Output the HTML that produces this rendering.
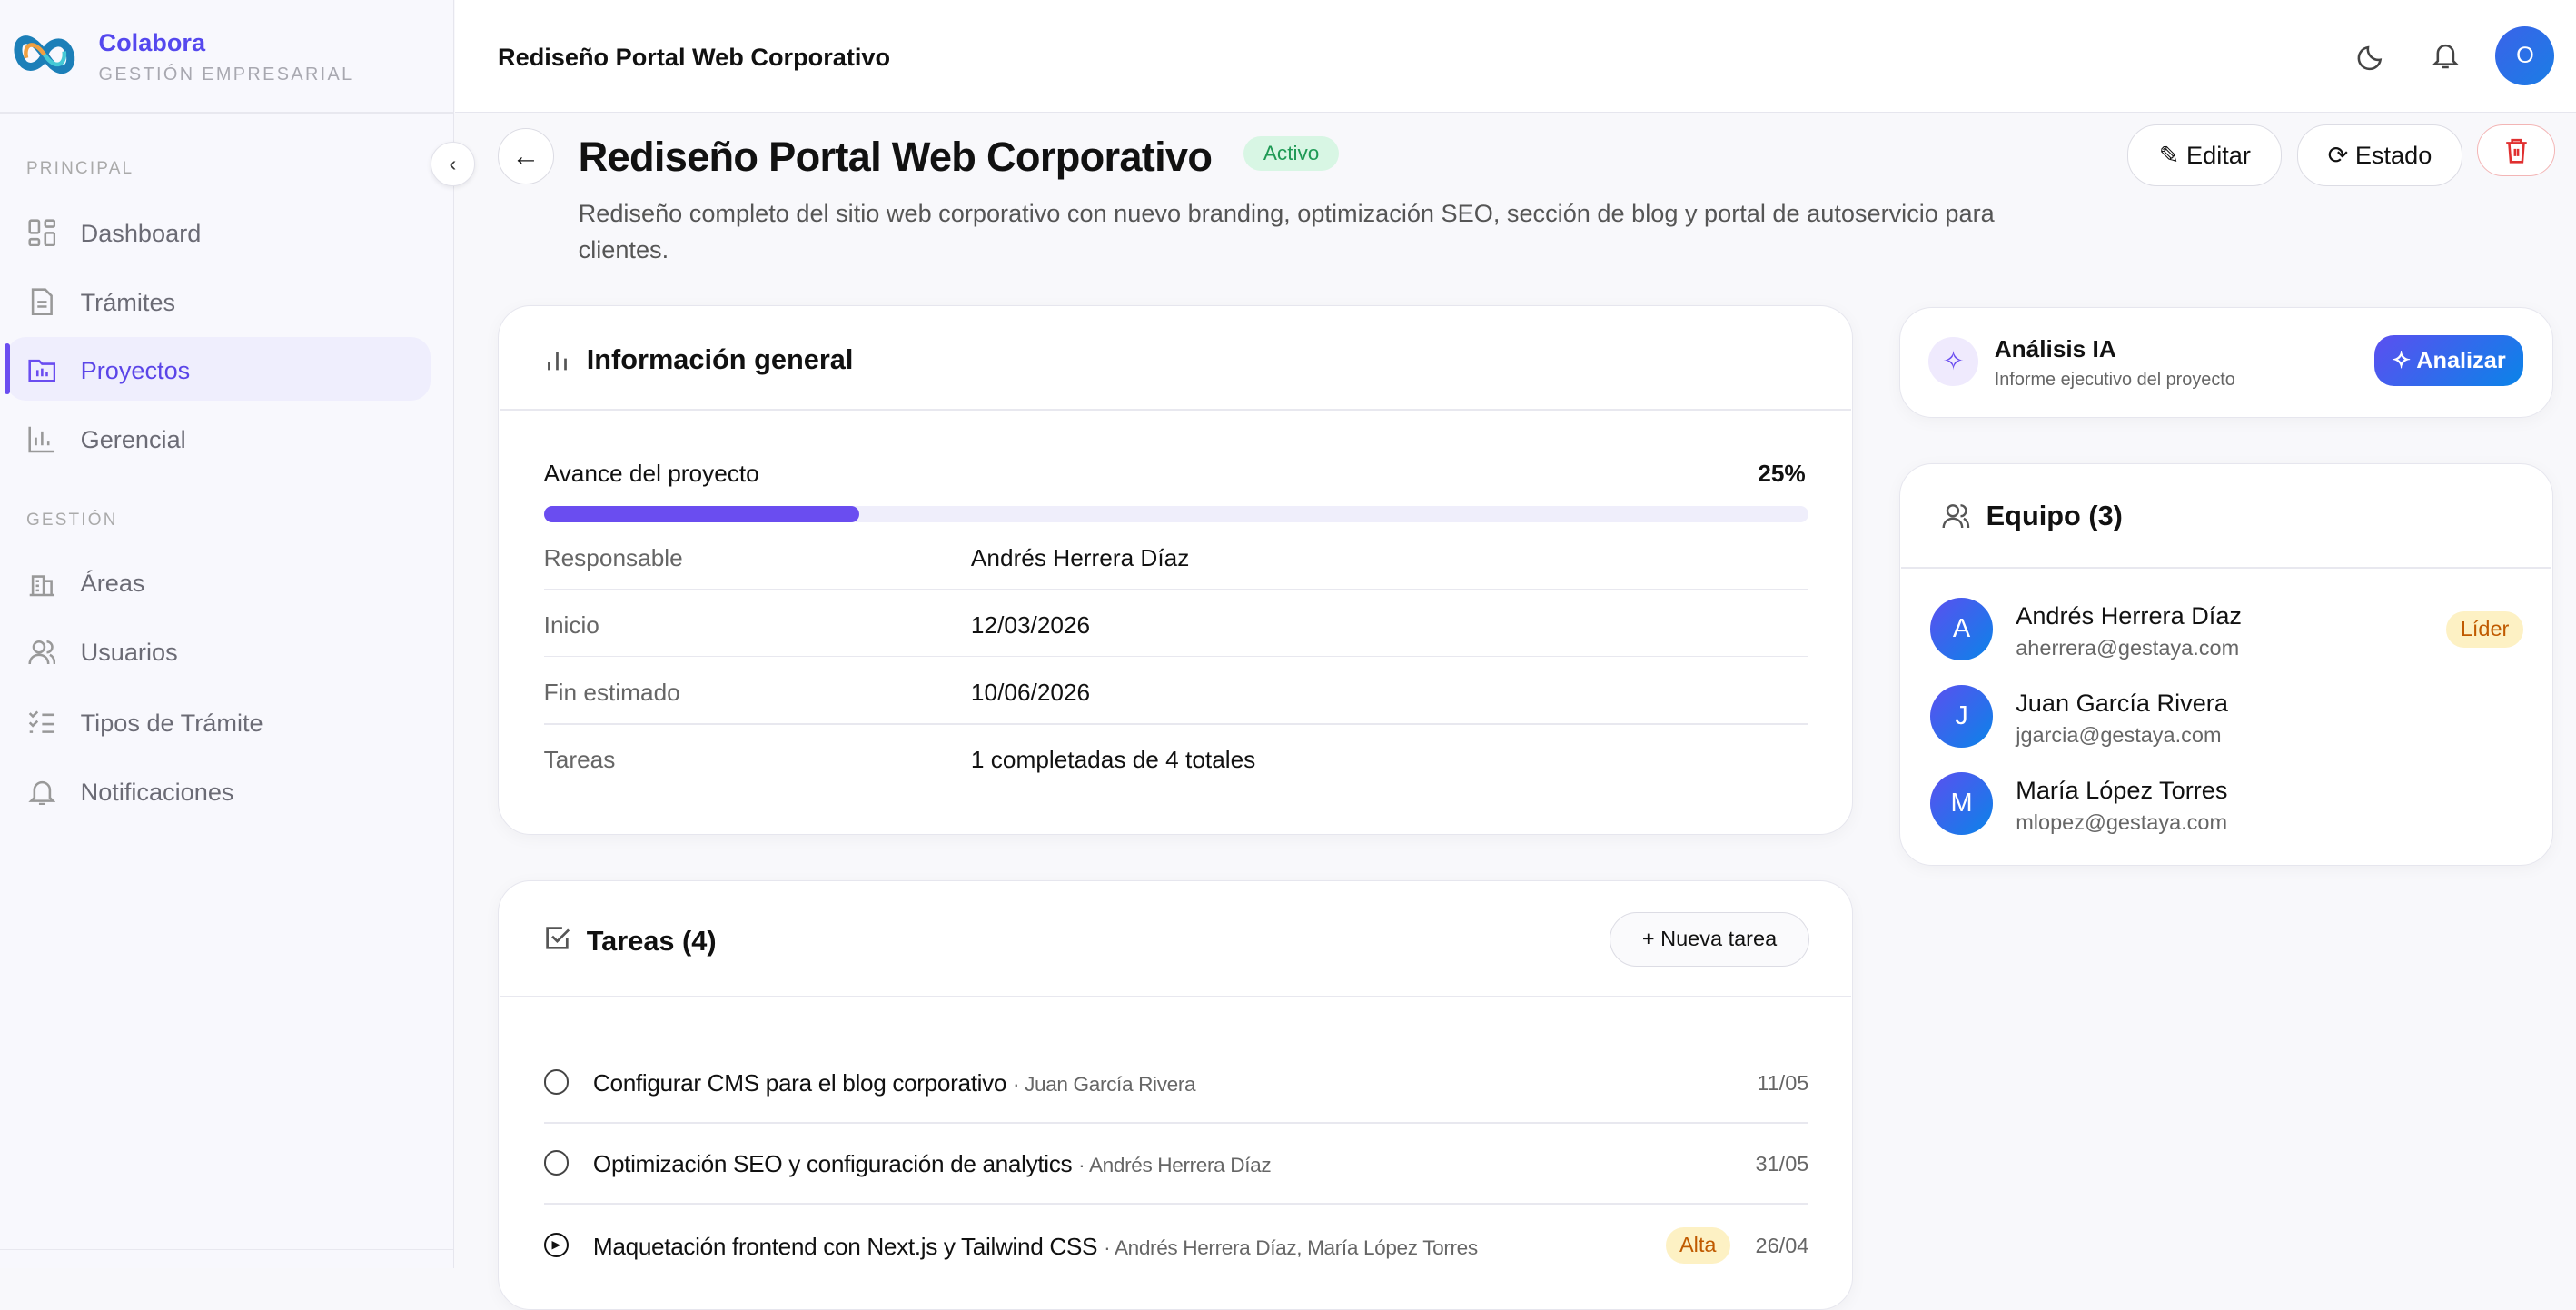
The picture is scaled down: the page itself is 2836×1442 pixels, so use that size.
<!DOCTYPE html>
<html><head><meta charset="utf-8">
<style>
html{zoom:1.80867}
body{margin:0;width:1568px;height:772px;overflow:hidden;background:#f8f8fb;font-family:"Liberation Sans",sans-serif;color:#111;position:relative}
.a{position:absolute;white-space:nowrap}
.side{position:absolute;left:0;top:0;width:276px;height:772px;background:#f8f8fd;border-right:1px solid #e6e6ee}
.nav{position:absolute;left:49px;font-size:15px;color:#6b6b75}
.ico{position:absolute;left:17px;width:17px;height:17px}
.sec{position:absolute;left:16px;font-size:10.5px;letter-spacing:1.2px;color:#aaa}
.card{position:absolute;background:#fff;border:1px solid #e6e6ee;border-radius:20px;box-shadow:0 2px 10px rgba(0,0,0,.04)}
.hr{position:absolute;height:1px;background:#e8e8ef}
.lbl{position:absolute;left:331px;font-size:14.5px;color:#666}
.val{position:absolute;left:591px;font-size:14.5px;color:#111}
.btn{position:absolute;border:1px solid #dcdce4;border-radius:18px;background:#fff;font-size:15px;display:flex;align-items:center;justify-content:center;gap:8px}
.av{position:absolute;left:1175px;width:38px;height:38px;border-radius:50%;background:linear-gradient(135deg,#5b4ff0,#0a84e8);color:#fff;font-size:16px;display:flex;align-items:center;justify-content:center}
.mn{position:absolute;left:1227px;font-size:15px}
.me{position:absolute;left:1227px;font-size:13px;color:#666}
.circ{position:absolute;left:331px;width:13px;height:13px;border:1.5px solid #444;border-radius:50%}
.task{position:absolute;left:361px;font-size:14.5px;letter-spacing:-0.2px}
.task span{font-size:12.5px;color:#666}
.dt{position:absolute;right:467px;font-size:13px;color:#666}
</style></head><body>
<div class="side">
  <svg class="a" style="left:6px;top:13px" width="42" height="40" viewBox="0 0 42 40"><g fill="none" stroke-width="5"><path d="M21 20 C10 4 2 12 6 22 C10 32 20 26 21 20 C22 14 32 8 36 18 C40 28 30 36 21 20" stroke="#1c7fb8"/><path d="M21 20 C14 10 8 14 10 22" stroke="#f0a040" stroke-width="2.5"/><path d="M21 20 C28 30 34 26 33 18" stroke="#45c9d6" stroke-width="2.5"/></g></svg>
  <div class="a" style="left:60px;top:17px;font-size:15px;font-weight:bold;color:#5548ee">Colabora</div>
  <div class="a" style="left:60px;top:39px;font-size:11px;letter-spacing:1.3px;color:#a8a8b0">GESTIÓN EMPRESARIAL</div>
  <div class="hr" style="left:0;top:68px;width:276px"></div>
  <div class="sec" style="top:97px">PRINCIPAL</div>
  <svg class="ico" style="top:133px" viewBox="0 0 18 18" fill="none" stroke="#999" stroke-width="1.5"><rect x="1" y="1" width="6" height="8" rx="1"/><rect x="11" y="1" width="6" height="4" rx="1"/><rect x="11" y="9" width="6" height="8" rx="1"/><rect x="1" y="13" width="6" height="4" rx="1"/></svg>
  <div class="nav" style="top:133px">Dashboard</div>
  <svg class="ico" style="top:175px" viewBox="0 0 18 18" fill="none" stroke="#999" stroke-width="1.5"><path d="M3 1h8l4 4v12H3z M6 9h6 M6 12h6"/></svg>
  <div class="nav" style="top:175px">Trámites</div>
  <div class="a" style="left:4px;top:205px;width:258px;height:39px;background:#efeefd;border-radius:12px"></div>
  <div class="a" style="left:3px;top:209px;width:3px;height:31px;background:#6a4df0;border-radius:2px"></div>
  <svg class="ico" style="top:217px" viewBox="0 0 18 18" fill="none" stroke="#6a4df0" stroke-width="1.5"><path d="M1 3h6l2 2h8v11H1z M6 9v4 M9 8v5 M12 10v3"/></svg>
  <div class="nav" style="top:217px;color:#5b45e8">Proyectos</div>
  <svg class="ico" style="top:259px" viewBox="0 0 18 18" fill="none" stroke="#999" stroke-width="1.5"><path d="M1 1v16h16 M5 13V8 M9 13V4 M13 13v-3"/></svg>
  <div class="nav" style="top:259px">Gerencial</div>
  <div class="sec" style="top:311px">GESTIÓN</div>
  <svg class="ico" style="top:346px" viewBox="0 0 18 18" fill="none" stroke="#999" stroke-width="1.5"><path d="M1 17h16 M3 17V5h7v12 M10 8h5v9 M5 8h2 M5 11h2 M5 14h2"/></svg>
  <div class="nav" style="top:346px">Áreas</div>
  <svg class="ico" style="top:388px" viewBox="0 0 18 18" fill="none" stroke="#999" stroke-width="1.5"><circle cx="7" cy="6" r="3.5"/><path d="M1 17c0-4 3-6 6-6s6 2 6 6 M12 2.5a3.5 3.5 0 010 7 M14 11c2 1 3 3 3 6"/></svg>
  <div class="nav" style="top:388px">Usuarios</div>
  <svg class="ico" style="top:431px" viewBox="0 0 18 18" fill="none" stroke="#999" stroke-width="1.5"><path d="M1 3l2 2 3-3 M1 9l2 2 3-3 M9 4h8 M9 10h8 M1 15h2 M9 15h8"/></svg>
  <div class="nav" style="top:431px">Tipos de Trámite</div>
  <svg class="ico" style="top:473px" viewBox="0 0 18 18" fill="none" stroke="#999" stroke-width="1.5"><path d="M4 13V8a5 5 0 0110 0v5l2 2H2z M7 17h4"/></svg>
  <div class="nav" style="top:473px">Notificaciones</div>
  <div class="hr" style="left:0;top:760px;width:276px"></div>
</div>
<div class="a" style="left:262px;top:86px;width:26px;height:26px;border-radius:50%;background:#fff;border:1px solid #e2e2ea;box-shadow:0 1px 3px rgba(0,0,0,.08);display:flex;align-items:center;justify-content:center;font-size:13px;color:#333">‹</div>
<div class="a" style="left:277px;top:0;width:1291px;height:68px;background:#fff;border-bottom:1px solid #e6e6ee"></div>
<div class="a" style="left:303px;top:26px;font-size:15px;font-weight:bold">Rediseño Portal Web Corporativo</div>
<svg class="a" style="left:1435px;top:26px" width="17" height="17" viewBox="0 0 18 18" fill="none" stroke="#444" stroke-width="1.5"><path d="M15 11A7 7 0 017 3a7 7 0 108 8z"/></svg>
<svg class="a" style="left:1480px;top:25px" width="17" height="17" viewBox="0 0 18 18" fill="none" stroke="#444" stroke-width="1.5"><path d="M4 13V8a5 5 0 0110 0v5l2 2H2z M7 17h4"/></svg>
<div class="a" style="left:1519px;top:16px;width:36px;height:36px;border-radius:50%;background:linear-gradient(135deg,#3b63e8,#1a7de6);color:#fff;font-size:14px;display:flex;align-items:center;justify-content:center">O</div>

<div class="a" style="left:303px;top:78px;width:33px;height:33px;border-radius:50%;background:#fff;border:1px solid #dcdce4;display:flex;align-items:center;justify-content:center;font-size:17px">←</div>
<div class="a" style="left:352px;top:81px;font-size:25px;font-weight:bold;letter-spacing:-0.4px">Rediseño Portal Web Corporativo</div>
<div class="a" style="left:757px;top:83px;width:58px;height:21px;border-radius:11px;background:#d8f6e4;color:#1f9a55;font-size:12.5px;display:flex;align-items:center;justify-content:center">Activo</div>
<div class="btn" style="left:1295px;top:76px;width:93px;height:36px">✎ Editar</div>
<div class="btn" style="left:1398px;top:76px;width:100px;height:36px">⟳ Estado</div>
<div class="btn" style="left:1508px;top:76px;width:46px;height:30px;border-color:#f3b5b5;color:#e03030">
<svg width="16" height="16" viewBox="0 0 18 18" fill="none" stroke="#e03030" stroke-width="1.6"><path d="M2 4h14 M6 4V2h6v2 M4 4l1 13h8l1-13 M8 8v5 M10 8v5"/></svg></div>
<div class="a" style="left:352px;top:119px;font-size:15px;color:#555;line-height:22px;white-space:normal;width:900px">Rediseño completo del sitio web corporativo con nuevo branding, optimización SEO, sección de blog y portal de autoservicio para clientes.</div>

<div class="card" style="left:303px;top:186px;width:824px;height:321px"></div>
<svg class="a" style="left:331px;top:211px" width="16" height="16" viewBox="0 0 16 16" stroke="#555" stroke-width="1.5"><path d="M3 14V9 M8 14V3 M13 14V7"/></svg>
<div class="a" style="left:357px;top:209px;font-size:17px;font-weight:bold">Información general</div>
<div class="hr" style="left:304px;top:249px;width:823px"></div>
<div class="a" style="left:331px;top:280px;font-size:14.5px">Avance del proyecto</div>
<div class="a" style="left:1070px;top:280px;font-size:14.5px;font-weight:bold">25%</div>
<div class="a" style="left:331px;top:308px;width:770px;height:10px;border-radius:5px;background:#efeefb"></div>
<div class="a" style="left:331px;top:308px;width:192px;height:10px;border-radius:5px;background:#6a4df0"></div>
<div class="lbl" style="top:331px">Responsable</div><div class="val" style="top:331px">Andrés Herrera Díaz</div>
<div class="hr" style="left:331px;top:358px;width:770px"></div>
<div class="lbl" style="top:372px">Inicio</div><div class="val" style="top:372px">12/03/2026</div>
<div class="hr" style="left:331px;top:399px;width:770px"></div>
<div class="lbl" style="top:413px">Fin estimado</div><div class="val" style="top:413px">10/06/2026</div>
<div class="hr" style="left:331px;top:440px;width:770px"></div>
<div class="lbl" style="top:454px">Tareas</div><div class="val" style="top:454px">1 completadas de 4 totales</div>

<div class="card" style="left:303px;top:536px;width:824px;height:260px"></div>
<svg class="a" style="left:331px;top:563px" width="16" height="16" viewBox="0 0 16 16" fill="none" stroke="#555" stroke-width="1.5"><path d="M14 8v6H2V2h9 M5 7l3 3 7-7"/></svg>
<div class="a" style="left:357px;top:563px;font-size:17px;font-weight:bold">Tareas (4)</div>
<div class="btn" style="left:980px;top:555px;width:120px;height:32px;font-size:13px;background:#fafafc">+ Nueva tarea</div>
<div class="hr" style="left:304px;top:606px;width:823px"></div>
<div class="circ" style="top:651px"></div>
<div class="task" style="top:651px">Configurar CMS para el blog corporativo <span>· Juan García Rivera</span></div>
<div class="dt" style="top:652px">11/05</div>
<div class="hr" style="left:331px;top:683px;width:770px"></div>
<div class="circ" style="top:700px"></div>
<div class="task" style="top:700px">Optimización SEO y configuración de analytics <span>· Andrés Herrera Díaz</span></div>
<div class="dt" style="top:701px">31/05</div>
<div class="hr" style="left:331px;top:732px;width:770px"></div>
<div class="circ" style="top:750px;border-color:#111;font-size:7px;line-height:13px;text-align:center">▶</div>
<div class="task" style="top:750px">Maquetación frontend con Next.js y Tailwind CSS <span>· Andrés Herrera Díaz, María López Torres</span></div>
<div class="a" style="left:1014px;top:747px;width:39px;height:22px;border-radius:11px;background:#fdf1c4;color:#c05a00;font-size:13px;text-align:center;line-height:22px">Alta</div>
<div class="dt" style="top:751px">26/04</div>

<div class="card" style="left:1156px;top:187px;width:397px;height:66px"></div>
<div class="a" style="left:1174px;top:205px;width:30px;height:30px;border-radius:50%;background:#efeafd;color:#6a4df0;font-size:16px;text-align:center;line-height:30px">✧</div>
<div class="a" style="left:1214px;top:204px;font-size:14.5px;font-weight:bold">Análisis IA</div>
<div class="a" style="left:1214px;top:225px;font-size:11px;color:#666">Informe ejecutivo del proyecto</div>
<div class="a" style="left:1445px;top:204px;width:91px;height:31px;border-radius:12px;background:linear-gradient(135deg,#5b4ff0,#0a84e8);color:#fff;font-size:14px;font-weight:bold;display:flex;align-items:center;justify-content:center">✧ Analizar</div>

<div class="card" style="left:1156px;top:282px;width:397px;height:244px"></div>
<svg class="a" style="left:1182px;top:305px" width="17" height="17" viewBox="0 0 18 18" fill="none" stroke="#555" stroke-width="1.4"><circle cx="7" cy="6" r="3.5"/><path d="M1 17c0-4 3-6 6-6s6 2 6 6 M12 2.5a3.5 3.5 0 010 7 M14 11c2 1 3 3 3 6"/></svg>
<div class="a" style="left:1209px;top:304px;font-size:17px;font-weight:bold">Equipo (3)</div>
<div class="hr" style="left:1157px;top:345px;width:396px"></div>
<div class="av" style="top:364px">A</div><div class="mn" style="top:366px">Andrés Herrera Díaz</div><div class="me" style="top:387px">aherrera@gestaya.com</div>
<div class="a" style="left:1489px;top:372px;width:47px;height:22px;border-radius:11px;background:#fdf1c4;color:#c05a00;font-size:13px;text-align:center;line-height:22px">Líder</div>
<div class="av" style="top:417px">J</div><div class="mn" style="top:419px">Juan García Rivera</div><div class="me" style="top:440px">jgarcia@gestaya.com</div>
<div class="av" style="top:470px">M</div><div class="mn" style="top:472px">María López Torres</div><div class="me" style="top:493px">mlopez@gestaya.com</div>
</body></html>
